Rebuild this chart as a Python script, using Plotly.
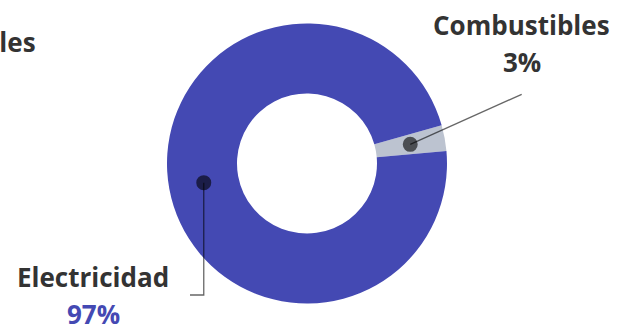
import plotly.graph_objects as go
import math

labels = ["Combustibles", "Electricidad"]
values = [3, 97]
pct_text = ["3%", "97%"]
colors = ["#bcc3d0", "#4449b3"]

W, H = 617, 328
cx, cy, R = 307, 164.5, 140   # pixel center (y from bottom), outer radius
hole = 0.5
rotation = 74.1

fig = go.Figure()
fig.add_trace(go.Pie(
    labels=labels, values=values, sort=False, direction="clockwise",
    rotation=rotation, hole=hole, textinfo="none", hoverinfo="label+percent",
    marker=dict(colors=colors, line=dict(width=0)),
    domain=dict(x=[(cx - R) / W, (cx + R) / W], y=[(cy - R) / H, (cy + R) / H]),
    showlegend=False,
))

# mid angle of each slice -> dot positions (pixel coords)
total = sum(values)
acc = 0
dots = []
rm = R * (1 + hole) / 2
for v in values:
    mid = rotation + 360 * (acc + v / 2) / total
    acc += v
    a = math.radians(mid)
    dots.append((cx + rm * math.sin(a), cy + rm * math.cos(a)))

line_col = "rgba(0,0,0,0.6)"
lw = 1.3
# Combustibles leader
fig.add_shape(type="line", x0=dots[0][0], y0=dots[0][1], x1=521.7, y1=H - 94.3,
              xref="x", yref="y", layer="above", line=dict(color=line_col, width=lw))
# Electricidad leader
fig.add_shape(type="path",
              path=f"M {dots[1][0]},{dots[1][1]} L {dots[1][0]},{H - 295} L 190,{H - 295}",
              xref="x", yref="y", layer="above", line=dict(color=line_col, width=lw))
r_dot = 7.5
for (dx, dy) in dots:
    fig.add_shape(type="circle", x0=dx - r_dot, x1=dx + r_dot, y0=dy - r_dot, y1=dy + r_dot,
                  xref="x", yref="y", layer="above", fillcolor=line_col, line=dict(width=0))

font_b = "Open Sans"
def ann(x, y, text, color, anchor="center"):
    fig.add_annotation(x=x, y=H - y, xref="x", yref="y", text="<b>" + text + "</b>", showarrow=False,
                       xanchor=anchor, yanchor="middle",
                       font=dict(family=font_b, size=26, color=color))

ann(521.7, 25, labels[0], "#333333")
ann(521.7, 62, pct_text[0], "#333333")
ann(93, 277, labels[1], "#333333")
ann(93, 314, pct_text[1], colors[1])
ann(38, 42, labels[0], "#333333", anchor="right")

fig.update_xaxes(range=[0, W], visible=False, fixedrange=True)
fig.update_yaxes(range=[0, H], visible=False, fixedrange=True)
fig.update_layout(width=W, height=H, margin=dict(l=0, r=0, t=0, b=0),
                  paper_bgcolor="white", plot_bgcolor="rgba(0,0,0,0)")
fig.write_html("out.html", config={"displayModeBar": False},
               post_script="document.body.style.margin='0';document.body.style.overflow='hidden';")
